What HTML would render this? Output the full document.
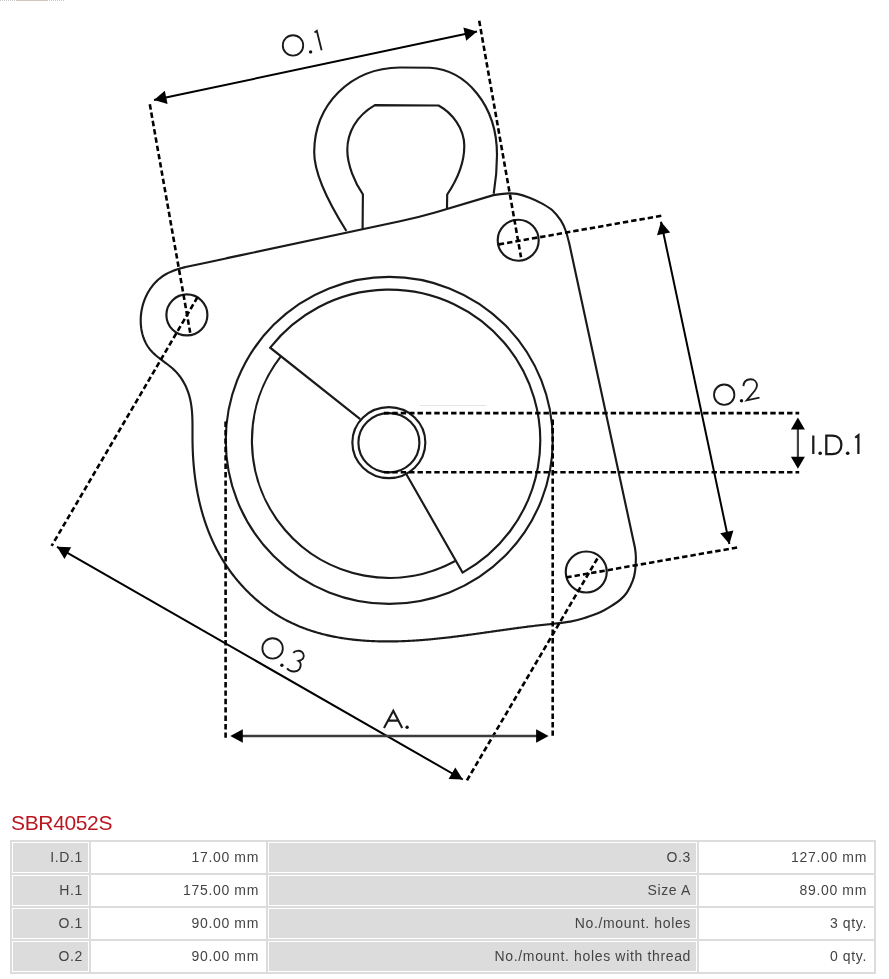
<!DOCTYPE html>
<html><head><meta charset="utf-8"><style>
html,body{margin:0;padding:0;background:#fff;-webkit-font-smoothing:antialiased;width:889px;height:979px;overflow:hidden;position:relative;font-family:"Liberation Sans",sans-serif}
.title{will-change:transform;position:absolute;left:11px;top:811px;font-size:21px;color:#bb1620;line-height:24px;white-space:nowrap;letter-spacing:-0.35px}
table{position:absolute;left:10px;top:840px;will-change:transform;border:0;background:#dcdcdc;border-spacing:2px;width:866px;table-layout:fixed}
td{border:1px solid #fff;height:31px;padding:0 5px 1px 0;line-height:28px;text-align:right;font-size:14px;letter-spacing:0.65px;color:#444;white-space:nowrap;box-sizing:border-box}
td.l{background:#dcdcdc}
td.v{background:#fff;padding-right:6px}
</style></head><body>
<svg width="889" height="800" viewBox="0 0 889 800" style="position:absolute;left:0;top:0"><path d="M240 255.4 L400 221.3 Q418 217.4 436 212.2 L493.4 195.1 C498.1 194.2 504.5 193.6 508.4 193.4 C512.3 193.2 513.4 193.2 516.9 193.9 C520.4 194.6 525.3 196.1 529.5 197.7 C533.7 199.3 538.4 201.5 542.2 203.6 C546.0 205.7 549.2 207.5 552.3 210.3 C555.4 213.1 558.5 217.0 560.8 220.4 C563.0 223.8 564.3 226.9 565.8 231.0 C567.3 235.1 568.6 241.1 569.6 245.0 L635 548 C635.5 551.3 635.9 554.2 635.9 558.0 C635.9 561.8 635.6 567.2 635.1 571.0 C634.6 574.8 634.1 577.2 632.7 580.8 C631.4 584.3 629.0 589.2 627.0 592.3 C625.0 595.4 622.9 597.4 620.4 599.6 C617.9 601.8 615.0 603.6 612.3 605.4 C609.6 607.2 606.6 608.9 604.1 610.3 C601.6 611.6 600.6 612.2 597.2 613.5 C593.8 614.8 588.2 616.9 583.7 618.2 C579.2 619.6 575.4 620.7 570.2 621.6 C565.1 622.5 557.8 623.2 552.8 623.8 L551.62 623.98 L550.41 624.10 L549.21 624.22 L548.01 624.34 L546.81 624.47 L545.61 624.59 L544.41 624.72 L543.22 624.85 L542.02 624.98 L540.82 625.11 L539.62 625.25 L538.43 625.38 L537.23 625.52 L536.03 625.66 L534.84 625.80 L533.64 625.95 L532.44 626.09 L531.25 626.24 L530.05 626.38 L528.86 626.53 L527.67 626.68 L526.47 626.83 L525.28 626.99 L524.08 627.14 L522.89 627.30 L521.70 627.45 L520.50 627.61 L519.31 627.77 L518.12 627.93 L516.93 628.09 L515.74 628.25 L514.54 628.41 L513.35 628.57 L512.16 628.74 L510.97 628.90 L509.78 629.07 L508.59 629.23 L507.40 629.40 L506.21 629.57 L505.02 629.73 L503.83 629.90 L502.64 630.07 L501.45 630.24 L500.26 630.41 L499.07 630.58 L497.88 630.75 L496.69 630.92 L495.50 631.09 L494.31 631.26 L493.12 631.43 L491.93 631.60 L490.74 631.77 L489.55 631.94 L488.36 632.11 L487.17 632.28 L485.98 632.44 L484.80 632.61 L483.61 632.78 L482.42 632.95 L481.23 633.12 L480.04 633.29 L478.85 633.45 L477.66 633.62 L476.47 633.79 L475.28 633.95 L474.09 634.12 L472.90 634.28 L471.71 634.45 L470.52 634.61 L469.33 634.77 L468.14 634.93 L466.95 635.09 L465.76 635.25 L464.57 635.41 L463.38 635.57 L462.19 635.72 L461.00 635.88 L459.81 636.03 L458.62 636.18 L457.43 636.34 L456.23 636.49 L455.04 636.64 L453.85 636.78 L452.66 636.93 L451.47 637.07 L450.27 637.22 L449.08 637.36 L447.89 637.50 L446.69 637.63 L445.50 637.77 L444.31 637.91 L443.11 638.04 L441.92 638.17 L440.72 638.30 L439.53 638.43 L438.33 638.55 L437.14 638.67 L435.94 638.79 L434.74 638.91 L433.55 639.03 L432.35 639.15 L431.15 639.26 L429.95 639.37 L428.76 639.48 L427.56 639.58 L426.36 639.68 L425.16 639.78 L423.96 639.88 L422.76 639.98 L421.56 640.07 L420.36 640.16 L419.16 640.25 L417.95 640.33 L416.75 640.42 L415.55 640.50 L414.35 640.57 L413.14 640.65 L411.94 640.72 L410.73 640.78 L409.53 640.85 L408.32 640.91 L407.11 640.97 L405.91 641.02 L404.70 641.08 L403.49 641.13 L402.28 641.17 L401.07 641.21 L399.87 641.25 L398.66 641.29 L397.44 641.32 L396.23 641.35 L395.02 641.37 L393.81 641.39 L392.60 641.41 L391.38 641.42 L390.17 641.43 L388.96 641.44 L387.75 641.44 L386.53 641.44 L385.32 641.44 L384.10 641.43 L382.89 641.41 L381.68 641.39 L380.46 641.37 L379.25 641.34 L378.04 641.31 L376.83 641.28 L375.61 641.24 L374.40 641.19 L373.19 641.14 L371.98 641.09 L370.77 641.03 L369.56 640.97 L368.35 640.90 L367.14 640.83 L365.93 640.75 L364.72 640.67 L363.51 640.58 L362.31 640.49 L361.10 640.39 L359.89 640.28 L358.69 640.18 L357.49 640.06 L356.29 639.94 L355.08 639.82 L353.88 639.69 L352.69 639.56 L351.49 639.41 L350.29 639.27 L349.10 639.12 L347.90 638.96 L346.71 638.79 L345.52 638.63 L344.33 638.45 L343.14 638.27 L341.95 638.08 L340.77 637.89 L339.58 637.69 L338.40 637.48 L337.22 637.27 L336.04 637.05 L334.87 636.83 L333.69 636.60 L332.52 636.36 L331.35 636.12 L330.18 635.87 L329.01 635.61 L327.84 635.35 L326.68 635.08 L325.52 634.80 L324.36 634.52 L323.21 634.23 L322.05 633.93 L320.90 633.63 L319.75 633.32 L318.60 633.00 L317.46 632.67 L316.32 632.34 L315.18 632.00 L314.04 631.65 L312.90 631.30 L311.77 630.94 L310.64 630.57 L309.52 630.19 L308.39 629.81 L307.27 629.42 L306.15 629.02 L305.04 628.61 L303.93 628.19 L302.82 627.77 L301.71 627.34 L300.61 626.90 L299.51 626.46 L298.42 626.00 L297.32 625.54 L296.23 625.07 L295.15 624.59 L294.06 624.10 L292.98 623.60 L291.91 623.10 L290.83 622.59 L289.77 622.07 L288.70 621.54 L287.64 621.00 L286.58 620.45 L285.53 619.89 L284.47 619.33 L283.43 618.76 L282.39 618.17 L281.35 617.58 L280.31 616.98 L279.28 616.38 L278.25 615.76 L277.23 615.13 L276.21 614.50 L275.20 613.85 L274.19 613.20 L273.18 612.54 L272.18 611.87 L271.18 611.20 L270.19 610.51 L269.20 609.82 L268.22 609.12 L267.24 608.41 L266.27 607.70 L265.30 606.97 L264.34 606.24 L263.38 605.50 L262.43 604.76 L261.48 604.00 L260.53 603.24 L259.60 602.47 L258.66 601.70 L257.74 600.92 L256.81 600.13 L255.90 599.33 L254.99 598.53 L254.08 597.72 L253.18 596.90 L252.29 596.08 L251.40 595.25 L250.51 594.41 L249.64 593.57 L248.76 592.72 L247.90 591.86 L247.04 591.00 L246.19 590.13 L245.34 589.26 L244.50 588.38 L243.66 587.49 L242.84 586.60 L242.01 585.70 L241.20 584.80 L240.39 583.89 L239.59 582.98 L238.79 582.06 L238.00 581.13 L237.22 580.20 L236.44 579.27 L235.67 578.33 L234.91 577.38 L234.16 576.43 L233.41 575.48 L232.67 574.52 L231.93 573.55 L231.21 572.58 L230.49 571.61 L229.77 570.63 L229.07 569.65 L228.37 568.66 L227.68 567.67 L227.00 566.67 L226.32 565.67 L225.66 564.67 L225.00 563.66 L224.34 562.65 L223.70 561.64 L223.06 560.62 L222.43 559.59 L221.81 558.57 L221.20 557.53 L220.59 556.50 L220.00 555.46 L219.40 554.42 L218.82 553.38 L218.24 552.33 L217.68 551.28 L217.11 550.22 L216.56 549.16 L216.01 548.10 L215.47 547.03 L214.94 545.96 L214.42 544.89 L213.90 543.82 L213.39 542.74 L212.88 541.65 L212.39 540.57 L211.90 539.48 L211.41 538.39 L210.94 537.30 L210.47 536.20 L210.01 535.10 L209.55 534.00 L209.10 532.89 L208.66 531.78 L208.23 530.67 L207.80 529.55 L207.38 528.44 L206.96 527.32 L206.55 526.20 L206.15 525.07 L205.76 523.94 L205.37 522.81 L204.99 521.68 L204.61 520.54 L204.24 519.41 L203.88 518.27 L203.53 517.12 L203.18 515.98 L202.83 514.83 L202.50 513.68 L202.17 512.53 L201.84 511.38 L201.52 510.22 L201.21 509.06 L200.90 507.90 L200.60 506.74 L200.31 505.58 L200.02 504.41 L199.74 503.24 L199.46 502.07 L199.19 500.90 L198.93 499.73 L198.67 498.55 L198.42 497.38 L198.17 496.20 L197.93 495.02 L197.70 493.83 L197.47 492.65 L197.24 491.47 L197.02 490.28 L196.81 489.09 L196.60 487.90 L196.40 486.71 L196.21 485.52 L196.01 484.32 L195.83 483.13 L195.65 481.93 L195.48 480.73 L195.31 479.53 L195.14 478.33 L194.98 477.13 L194.83 475.93 L194.68 474.73 L194.54 473.52 L194.40 472.32 L194.27 471.11 L194.14 469.90 L194.02 468.69 L193.90 467.49 L193.79 466.28 L193.68 465.07 L193.58 463.85 L193.48 462.64 L193.39 461.43 L193.30 460.22 L193.22 459.00 L193.14 457.79 L193.06 456.57 L192.99 455.36 L192.93 454.14 L192.87 452.92 L192.81 451.71 L192.76 450.49 L192.72 449.27 L192.67 448.06 L192.64 446.84 L192.60 445.62 L192.58 444.40 L192.55 443.18 L192.53 441.96 L192.52 440.75 L192.51 439.53 L192.50 438.31 L192.49 437.09 L192.49 435.87 L192.49 434.66 L192.50 433.44 L192.50 432.22 L192.50 431.01 L192.50 429.79 L192.50 428.58 L192.50 427.37 L192.50 426.15 L192.49 424.94 L192.48 423.74 L192.46 422.53 L192.44 421.33 L192.41 420.12 L192.38 418.92 L192.34 417.72 L192.29 416.53 L192.23 415.33 L192.16 414.14 L192.08 412.95 L191.99 411.76 L191.89 410.58 L191.77 409.40 L191.65 408.22 L191.50 407.05 L191.35 405.88 L191.18 404.71 L190.99 403.55 L190.79 402.39 L190.57 401.23 L190.33 400.08 L190.08 398.93 L189.80 397.79 L189.51 396.65 L189.19 395.51 L188.86 394.38 L188.50 393.26 L188.12 392.14 L187.72 391.02 L187.30 389.92 L186.86 388.82 L186.39 387.72 L185.91 386.64 L185.40 385.57 L184.87 384.51 L184.32 383.45 L183.75 382.41 L183.16 381.38 L182.54 380.36 L181.91 379.36 L181.25 378.37 L180.58 377.39 L179.88 376.43 L179.16 375.49 L178.42 374.56 L177.65 373.64 L176.87 372.75 L176.07 371.87 L175.24 371.01 L174.39 370.17 L173.53 369.35 L172.64 368.55 L171.74 367.76 L170.82 366.99 L169.89 366.23 L168.95 365.48 L168.00 364.73 L167.04 364.00 L166.08 363.27 L165.11 362.55 L164.14 361.83 L163.17 361.11 L162.20 360.39 L161.24 359.67 L160.28 358.94 L159.33 358.21 L158.39 357.47 L157.46 356.73 L156.54 355.97 L155.64 355.20 L154.76 354.41 L153.89 353.61 L153.05 352.80 L152.22 351.96 L151.42 351.11 L150.65 350.23 L149.90 349.33 L149.19 348.41 L148.50 347.46 L147.84 346.49 L147.21 345.49 L146.61 344.48 L146.04 343.44 L145.50 342.39 L144.99 341.31 L144.51 340.22 L144.06 339.11 L143.63 337.98 L143.24 336.84 L142.88 335.68 L142.54 334.51 L142.23 333.33 L141.96 332.14 L141.71 330.93 L141.48 329.72 L141.29 328.50 L141.13 327.28 L140.99 326.05 L140.88 324.81 L140.80 323.58 L140.74 322.34 L140.71 321.10 L140.71 319.87 L140.74 318.63 L140.79 317.40 L140.87 316.17 L140.98 314.94 L141.11 313.72 L141.27 312.50 L141.45 311.29 L141.66 310.08 L141.89 308.88 L142.15 307.68 L142.44 306.50 L142.74 305.32 L143.08 304.15 L143.43 302.99 L143.81 301.83 L144.22 300.69 L144.65 299.56 L145.10 298.44 L145.57 297.33 L146.07 296.24 L146.59 295.16 L147.13 294.09 L147.70 293.03 L148.28 291.99 L148.89 290.97 L149.52 289.96 L150.17 288.97 L150.85 287.99 L151.54 287.03 L152.26 286.09 L152.99 285.17 L153.75 284.27 L154.52 283.39 L155.32 282.53 L156.13 281.68 L156.97 280.87 L157.82 280.07 L158.70 279.29 L159.59 278.54 L160.50 277.81 L161.43 277.11 L162.38 276.43 L163.35 275.77 L164.33 275.15 L165.33 274.54 L166.35 273.96 L167.38 273.41 L168.43 272.88 L169.50 272.37 L170.58 271.88 L171.67 271.41 L172.77 270.96 L173.88 270.53 L175.01 270.12 L176.15 269.72 L177.29 269.34 L178.45 268.97 L179.61 268.62 L180.79 268.29 L181.96 267.96 L183.15 267.65 L184.34 267.34 L185.53 267.05 L186.73 266.77 L187.94 266.49 L189.14 266.22 L190.35 265.96 L191.56 265.70 L192.77 265.45 L193.98 265.20 L195.19 264.95 L196.40 264.71 L197.61 264.47 L198.81 264.23 L200.01 263.98 L201.21 263.74 L202.40 263.49 L203.59 263.25 L204.77 263.00 L205.96 262.75 L207.14 262.50 L208.31 262.25 L209.49 262.00 L210.66 261.75 L211.83 261.49 L213.00 261.24 L214.17 260.99 L215.34 260.73 L216.50 260.48 L217.67 260.22 L218.83 259.96 L220.00 259.71 L221.16 259.45 L222.33 259.20 L223.49 258.94 L224.66 258.68 L225.82 258.43 L226.99 258.17 L228.16 257.92 L229.34 257.66 L230.51 257.41 L231.68 257.15 L232.86 256.90 L234.04 256.65 L235.23 256.40 L236.42 256.15 L237.61 255.90 L238.80 255.65 L240.00 255.40 Z" fill="none" stroke="#1a1a1a" stroke-width="2.15"/>
<path d="M346.4 231 C330 205 314 175 314.2 152 C314.5 105 350 68 400 67.5 L430 67.8 C466 70 497 105 497 155 C497 170 495.5 183 493.7 193.8" fill="none" stroke="#1a1a1a" stroke-width="2.15"/>
<path d="M362.6 229 L362.9 194.3 C355 183 347.3 165 347.3 150 C347.3 133 356 116 374.9 105.1 L438.6 105.5 C452 113 464.3 128 464.3 146 C464.3 165 457 180 447.2 194.5 L447 208.3" fill="none" stroke="#1a1a1a" stroke-width="2.15"/>
<circle cx="186.90" cy="314.90" r="20.5" fill="none" stroke="#1a1a1a" stroke-width="2.15"/>
<circle cx="518.20" cy="240.20" r="20.5" fill="none" stroke="#1a1a1a" stroke-width="2.15"/>
<circle cx="586.25" cy="571.95" r="20.5" fill="none" stroke="#1a1a1a" stroke-width="2.15"/>
<circle cx="389.25" cy="440.4" r="163.5" fill="none" stroke="#1a1a1a" stroke-width="2.15"/>
<ellipse cx="388.85" cy="442.6" rx="36.5" ry="35.45" fill="none" stroke="#1a1a1a" stroke-width="2.15"/>
<ellipse cx="388.9" cy="442.7" rx="30.5" ry="29.65" fill="none" stroke="#1a1a1a" stroke-width="2.15"/>
<path d="M360.2 419.2 L270.21 347.70 A151.0 151.0 0 1 1 462.56 572.61 L405.8 473.2" fill="none" stroke="#1a1a1a" stroke-width="2.15"/>
<path d="M280.66 356.57 A137.3 137.3 0 0 0 455.20 561.02" fill="none" stroke="#1a1a1a" stroke-width="2.15"/>
<path d="M149.8 104.3 L190.2 332.7" fill="none" stroke="#000" stroke-width="2.6" stroke-dasharray="5.4 3.0"/>
<path d="M479.2 20.8 L521.0 257.2" fill="none" stroke="#000" stroke-width="2.6" stroke-dasharray="5.4 3.0"/>
<path d="M498.8 244.4 L662.3 215.6" fill="none" stroke="#000" stroke-width="2.6" stroke-dasharray="5.4 3.0"/>
<path d="M566.3 577.4 L737.3 547.5" fill="none" stroke="#000" stroke-width="2.6" stroke-dasharray="5.4 3.0"/>
<path d="M197.5 297.2 L51.6 545.9" fill="none" stroke="#000" stroke-width="2.6" stroke-dasharray="5.4 3.0"/>
<path d="M597.4 558.5 L466.4 781.3" fill="none" stroke="#000" stroke-width="2.6" stroke-dasharray="5.4 3.0"/>
<path d="M225.6 421.6 L225.6 738.6" fill="none" stroke="#000" stroke-width="2.6" stroke-dasharray="5.4 3.0"/>
<path d="M552.7 419.6 L552.7 736.8" fill="none" stroke="#000" stroke-width="2.6" stroke-dasharray="5.4 3.0"/>
<path d="M383.9 413.1 L799.2 413.1" fill="none" stroke="#000" stroke-width="2.6" stroke-dasharray="5.4 3.0"/>
<path d="M383.9 472.3 L799.2 472.3" fill="none" stroke="#000" stroke-width="2.6" stroke-dasharray="5.4 3.0"/>
<path d="M154.0 100.0 L477.0 31.6" stroke="#000" stroke-width="2.0" fill="none"/>
<path d="M154.0 100.0 L164.8 90.8 L167.6 104.0 Z" fill="#000"/>
<path d="M477.0 31.6 L466.2 40.8 L463.4 27.6 Z" fill="#000"/>
<path d="M661.0 221.7 L729.4 544.0" stroke="#000" stroke-width="2.0" fill="none"/>
<path d="M661.0 221.7 L670.2 232.5 L657.0 235.3 Z" fill="#000"/>
<path d="M729.4 544.0 L720.2 533.2 L733.4 530.4 Z" fill="#000"/>
<path d="M57.0 546.8 L462.8 779.5" stroke="#000" stroke-width="2.0" fill="none"/>
<path d="M57.0 546.8 L71.2 547.2 L64.5 558.9 Z" fill="#000"/>
<path d="M462.8 779.5 L448.6 779.1 L455.3 767.4 Z" fill="#000"/>
<path d="M236 736 L543 736" stroke="#3a3a3a" stroke-width="2.4" fill="none"/>
<path d="M230.3 736.0 L242.8 729.2 L242.8 742.8 Z" fill="#000"/>
<path d="M548.6 736.0 L536.1 742.8 L536.1 729.2 Z" fill="#000"/>
<path d="M797.9 425 L797.9 461" stroke="#444" stroke-width="2.2" fill="none"/>
<path d="M797.9 417.6 L804.9 429.6 L790.9 429.6 Z" fill="#000"/>
<path d="M797.9 468.8 L790.9 456.8 L804.9 456.8 Z" fill="#000"/>
<path d="M0 0.5 L16 0.5 M49 0.5 L64 0.5" stroke="#c8c8c8" stroke-width="1" stroke-dasharray="1 1" fill="none"/><path d="M16 0.5 L48 0.5" stroke="#cfc8c0" stroke-width="1" fill="none"/>
<path d="M420 405.5 L486 405.5" stroke="#e4e4e4" stroke-width="1" fill="none"/>
<circle cx="293" cy="45.4" r="10.2" fill="none" stroke="#1a1a1a" stroke-width="1.85"/>
<circle cx="310.6" cy="51.9" r="1.7" fill="#111"/>
<path d="M314.5 32.4 L316.8 30.8 L321.6 50.3" fill="none" stroke="#1a1a1a" stroke-width="1.85"/>
<circle cx="724.2" cy="394.7" r="10.2" fill="none" stroke="#1a1a1a" stroke-width="1.85"/>
<circle cx="741.5" cy="400.7" r="1.7" fill="#111"/>
<path d="M743.4 386.1 C743.8 381.5 746.5 379.2 750.5 379.2 C754.5 379.2 757 382 757 385.5 C757 387.5 756 389 754.5 391 L746.7 400.3 L759.5 397.6" fill="none" stroke="#1a1a1a" stroke-width="1.85"/>
<circle cx="272.6" cy="648.4" r="10.2" fill="none" stroke="#1a1a1a" stroke-width="1.85"/>
<circle cx="281.9" cy="665.2" r="1.7" fill="#111"/>
<path d="M293.3 653 C295 650.5 299.5 650 302 652 C304.5 654 304.5 658 301.5 659.8 L298.5 660.8 C301 662 301.5 666 299.5 669 C297 672.5 290.5 672.5 287 668.3" fill="none" stroke="#1a1a1a" stroke-width="1.85"/>
<path d="M384 728 L393.3 710.8 L402.2 728 M388.6 720.6 L398.3 720.6" fill="none" stroke="#1a1a1a" stroke-width="2.1"/>
<circle cx="407.1" cy="727.3" r="1.7" fill="#111"/>
<path d="M813.3 435.4 L813.3 454.1 M826.3 435.5 L826.3 454 L832 454 C838.5 454 841.4 449.5 841.4 444.7 C841.4 439.8 838.5 435.5 832 435.5 L825.2 435.5 M855.2 437.6 L858.4 435.3 L858.4 454.1" fill="none" stroke="#1a1a1a" stroke-width="2.25"/>
<circle cx="820.2" cy="453.3" r="1.8" fill="#111"/>
<circle cx="847.7" cy="453.3" r="1.8" fill="#111"/></svg>
<div class="title">SBR4052S</div>
<table><colgroup><col style="width:77px"><col style="width:175px"><col style="width:429px"><col style="width:175px"></colgroup>
<tr><td class="l c1">I.D.1</td><td class="v c2">17.00 mm</td><td class="l c3">O.3</td><td class="v c4">127.00 mm</td></tr><tr><td class="l c1">H.1</td><td class="v c2">175.00 mm</td><td class="l c3">Size A</td><td class="v c4">89.00 mm</td></tr><tr><td class="l c1">O.1</td><td class="v c2">90.00 mm</td><td class="l c3">No./mount. holes</td><td class="v c4">3 qty.</td></tr><tr><td class="l c1">O.2</td><td class="v c2">90.00 mm</td><td class="l c3">No./mount. holes with thread</td><td class="v c4">0 qty.</td></tr></table>
</body></html>
